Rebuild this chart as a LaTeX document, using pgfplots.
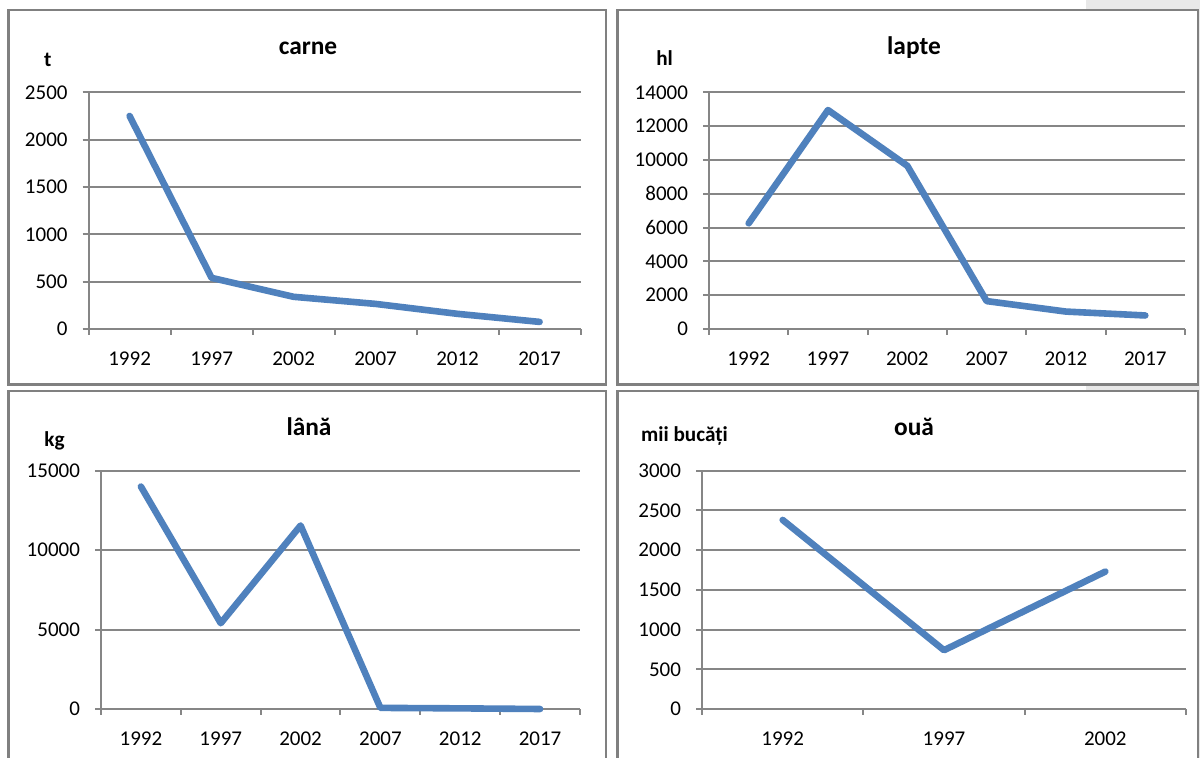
\documentclass[border=0pt]{standalone}
\usepackage{fontspec}
\setmainfont{Carlito}
\usepackage{pgfplots}
\pgfplotsset{compat=1.18}

\definecolor{xlblue}{RGB}{79,129,189}
\definecolor{gridgray}{RGB}{134,134,134}
\definecolor{framegray}{RGB}{128,128,128}
\definecolor{bggray}{RGB}{232,232,232}

\pgfplotsset{
  panel/.style={
    scale only axis,
    clip=false,
    axis x line*=bottom,
    axis y line*=left,
    axis line style={-, draw=gridgray, line width=1pt},
    ymajorgrids=true,
    grid style={draw=gridgray, line width=1pt},
    xmin=0, ymin=0,
    tick align=outside,
    tick pos=left,
    tick style={draw=gridgray, line width=1pt},
    major tick length=3pt,
    minor tick length=3pt,
    major x tick style={draw=none},
    scaled y ticks=false,
    /pgf/number format/.cd, 1000 sep={}, assume math mode=true, /pgfplots/.cd,
    tick label style={font=\fontsize{10.5}{12}\selectfont, text=black},
    xticklabel style={yshift=-4.8pt},
    yticklabel style={xshift=-4pt},
  },
  serie/.style={color=xlblue, line width=3.3pt, line join=round, line cap=round},
}

\begin{document}
\begin{tikzpicture}
\useasboundingbox (0,-379pt) rectangle (600pt,0);
\begin{scope}[x=0.5pt, y=-0.5pt]
  \fill[bggray] (1086,0) rectangle (1200,758);
  \begin{scope}
    \clip (0,0) rectangle (1200,758);
    \filldraw[fill=white, draw=framegray, line width=1.2pt] (8.5,10) rectangle (606,384.5);
    \filldraw[fill=white, draw=framegray, line width=1.2pt] (617.5,10) rectangle (1198,384.5);
    \filldraw[fill=white, draw=framegray, line width=1.2pt] (8.5,391) rectangle (606,770);
    \filldraw[fill=white, draw=framegray, line width=1.2pt] (617.5,391) rectangle (1198,770);
  \end{scope}
  % titles
  \begin{scope}[every node/.style={anchor=base, inner sep=0pt, font=\fontsize{12.7}{14}\selectfont\bfseries}]
    \node at (308,55) {carne};
    \node at (914,55) {lapte};
    \node at (309,435.7) {lână};
    \node at (914,435.7) {ouă};
  \end{scope}
  % units
  \begin{scope}[every node/.style={anchor=base, inner sep=0pt, font=\fontsize{10.6}{12}\selectfont\bfseries}]
    \node at (47.7,66.7) {t};
    \node at (664.6,66) {hl};
    \node at (54.6,446.7) {kg};
    \node at (684.5,441.7) {mii bucăți};
  \end{scope}
\end{scope}

% carne
\begin{axis}[panel, at={(44.3pt,-164.5pt)}, anchor=south west,
    width=246pt, height=118.35pt,
    xmax=6, ymax=2500, ytick={0,500,...,2500},
    xtick={0.5,1.5,2.5,3.5,4.5,5.5},
    xticklabels={1992,1997,2002,2007,2012,2017},
    minor xtick={0,1,...,6}]
  \addplot[serie] coordinates {(0.5,2250) (1.5,540) (2.5,340) (3.5,265) (4.5,160) (5.5,75)};
\end{axis}

% lapte
\begin{axis}[panel, at={(354.5pt,-164.5pt)}, anchor=south west,
    width=238pt, height=118.35pt,
    xmax=6, ymax=14000, ytick={0,2000,...,14000},
    xtick={0.5,1.5,2.5,3.5,4.5,5.5},
    xticklabels={1992,1997,2002,2007,2012,2017},
    minor xtick={0,1,...,6}]
  \addplot[serie] coordinates {(0.5,6250) (1.5,12950) (2.5,9650) (3.5,1650) (4.5,1030) (5.5,800)};
\end{axis}

% lana
\begin{axis}[panel, at={(50.5pt,-354.5pt)}, anchor=south west,
    width=239.5pt, height=119.15pt,
    xmax=6, ymax=15000, ytick={0,5000,10000,15000},
    xtick={0.5,1.5,2.5,3.5,4.5,5.5},
    xticklabels={1992,1997,2002,2007,2012,2017},
    minor xtick={0,1,...,6}]
  \addplot[serie] coordinates {(0.5,14000) (1.5,5400) (2.5,11550) (3.5,70) (4.5,40) (5.5,0)};
\end{axis}

% oua
\begin{axis}[panel, at={(351pt,-354.5pt)}, anchor=south west,
    width=242pt, height=119.15pt,
    xmax=3, ymax=3000, ytick={0,500,...,3000},
    xtick={0.5,1.5,2.5},
    xticklabels={1992,1997,2002},
    minor xtick={0,1,2,3}]
  \addplot[serie] coordinates {(0.5,2380) (1.5,740) (2.5,1730)};
\end{axis}
\end{tikzpicture}
\end{document}
